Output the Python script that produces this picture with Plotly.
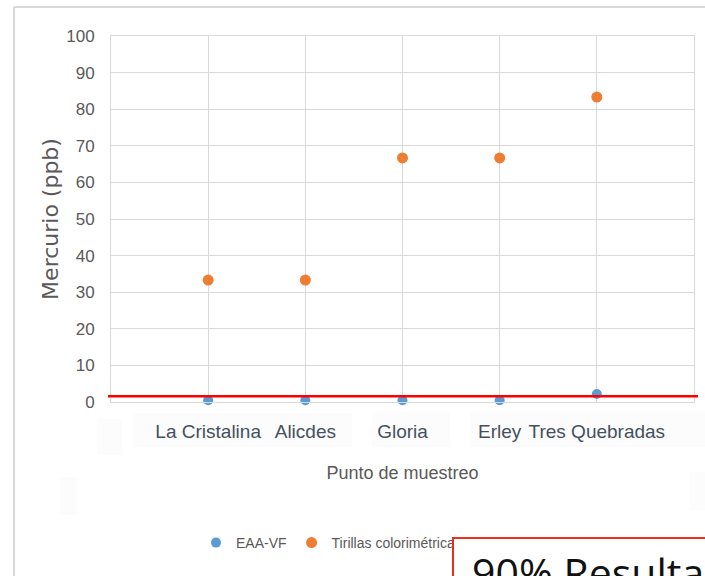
import plotly.graph_objects as go

# ---- data ----
puntos = ["La Cristalina", "Alicdes", "Gloria", "Erley", "Tres Quebradas"]
x_pos = [1, 2, 3, 4, 5]
eaa_vf = [0.5, 0.5, 0.5, 0.5, 2.2]
tirillas = [33.3, 33.3, 66.7, 66.7, 83.3]
limite = 1.6
y_ticks = [0, 10, 20, 30, 40, 50, 60, 70, 80, 90, 100]

W, H = 705, 576
L, R, T, B = 111, 11, 36, 174
pw, ph = W - L - R, H - T - B

def px(x):
    return (x - L) / pw

def py(y):
    return (H - B - y) / ph

NARROW = "Liberation Sans Narrow, Arial Narrow, sans-serif"
GRID = "#d9d9d9"

fig = go.Figure()
fig.add_trace(go.Scatter(
    x=x_pos, y=eaa_vf, mode="markers", name="EAA-VF", cliponaxis=False,
    marker=dict(color="#5B9BD5", size=10),
))
fig.add_trace(go.Scatter(
    x=x_pos, y=tirillas, mode="markers", name="Tirillas colorimétricas", cliponaxis=False,
    marker=dict(color="#ED7D31", size=11),
))

shapes = []
# faint label boxes (screenshot artifacts)
for (x0, y0, x1, y1) in [(133, 413, 352, 447), (372, 412, 450, 447), (470, 412, 705, 447),
                         (97, 419, 122, 455), (60, 477, 77, 515), (690, 472, 705, 510)]:
    shapes.append(dict(type="rect", xref="paper", yref="paper",
                       x0=px(x0), x1=px(x1), y0=py(y1), y1=py(y0),
                       fillcolor="#fcfcfc", line=dict(width=0), layer="below"))
# outer chart frame
shapes.append(dict(type="line", xref="paper", yref="paper",
                   x0=px(14), x1=px(14), y0=py(7), y1=py(580),
                   line=dict(color="#d9d9d9", width=2)))
shapes.append(dict(type="line", xref="paper", yref="paper",
                   x0=px(14), x1=px(710), y0=py(7), y1=py(7),
                   line=dict(color="#d9d9d9", width=2)))
# red limit line
shapes.append(dict(type="line", xref="paper", yref="y",
                   x0=px(108), x1=px(698), y0=limite, y1=limite,
                   line=dict(color="#ff0000", width=2.5)))

fig.update_layout(
    width=W, height=H,
    margin=dict(l=L, r=R, t=T, b=B),
    paper_bgcolor="white", plot_bgcolor="white",
    showlegend=True,
    legend=dict(orientation="h", x=px(196), xanchor="left", y=py(543), yanchor="middle",
                font=dict(family=NARROW, size=14, color="#595959"),
                bgcolor="rgba(0,0,0,0)", itemwidth=30),
    shapes=shapes,
    annotations=[
        dict(text=" ", xref="paper", yref="paper",
             x=px(452), y=py(537), xanchor="left", yanchor="top", showarrow=False,
             width=300, height=70,
             bgcolor="white", bordercolor="#e8301c", borderwidth=2, borderpad=0),
        dict(text="90% Resultados", xref="paper", yref="paper",
             x=px(470), y=py(542), xanchor="left", yanchor="top", showarrow=False,
             font=dict(family="Open Sans, DejaVu Sans, sans-serif", size=41, color="#111111")),
    ],
)
fig.update_xaxes(
    range=[0, 6], tickvals=[0] + x_pos + [6], ticktext=[""] + puntos + [""],
    showgrid=True, gridcolor=GRID, gridwidth=1,
    showline=True, linecolor=GRID, linewidth=1, mirror=True,
    zeroline=False, ticks="", ticklabelstandoff=12,
    tickfont=dict(family=NARROW, size=19, color="#44505f"),
    title=dict(text="Punto de muestreo", standoff=25,
               font=dict(family=NARROW, size=18, color="#595959")),
)
fig.update_yaxes(
    range=[0, 100], tickvals=y_ticks,
    showgrid=True, gridcolor=GRID, gridwidth=1,
    showline=True, linecolor=GRID, linewidth=1, mirror=True,
    zeroline=False, ticks="", ticklabelstandoff=12,
    tickfont=dict(family=NARROW, size=17, color="#595959"),
    title=dict(text="Mercurio (ppb)", standoff=1,
               font=dict(family="DejaVu Sans, Verdana, sans-serif", size=22, color="#595959")),
)

fig.write_html("out.html", config={"displayModeBar": False},
               post_script="document.body.style.margin='0px';document.body.style.overflow='hidden';")
